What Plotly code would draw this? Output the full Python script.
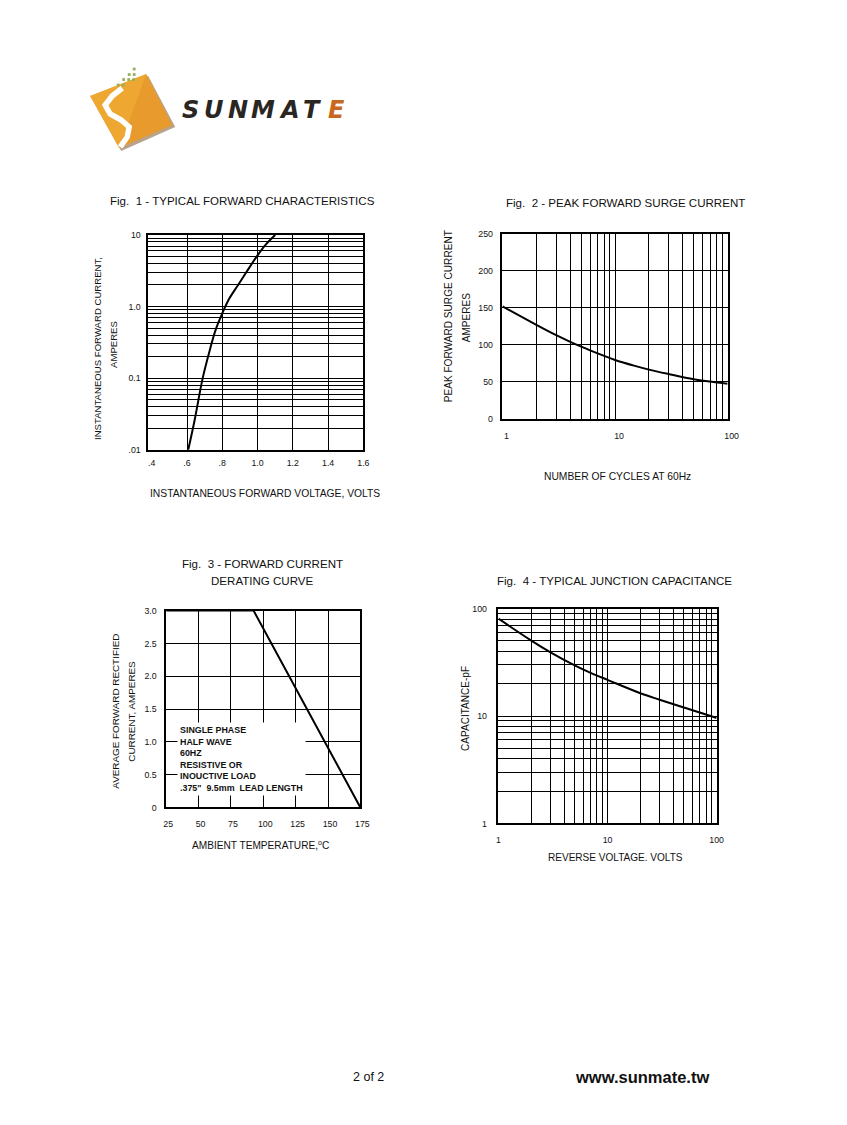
import plotly.graph_objects as go

W, H = 811, 1099
# measured mapping from figure pixels to the photographed page: page = S*fig + B
SX, BX = 0.982, 10.9
SY, BY = 0.9917, 11.9
FONT = "Liberation Sans, Arial, sans-serif"

# ---------------- data ----------------
fig1_voltage = [0.607, 0.642, 0.689, 0.731, 0.761, 0.80, 0.839, 0.888, 0.937, 1.0, 1.05, 1.1]
fig1_current = [0.01, 0.025, 0.1, 0.255, 0.461, 0.80, 1.28, 1.97, 3.03, 5.19, 7.5, 10]
fig1_xticks = [0.4, 0.6, 0.8, 1.0, 1.2, 1.4, 1.6]
fig1_xlabels = [".4", ".6", ".8", "1.0", "1.2", "1.4", "1.6"]
fig1_xgrid = [0.6, 0.8, 1.0, 1.2, 1.4]
fig1_yticks = [0.01, 0.1, 1, 10]
fig1_ylabels = [".01", "0.1", "1.0", "10"]

fig2_cycles = [1, 2, 3, 4, 5, 6, 8, 10, 15, 20, 30, 50, 70, 100]
fig2_surge = [152, 127, 113, 104, 97.5, 92.5, 85, 79.5, 71.5, 66.5, 60.5, 53.5, 50.3, 47.5]
fig2_xticks = [1, 10, 100]
fig2_xlabels = ["1", "10", "100"]
fig2_yticks = [0, 50, 100, 150, 200, 250]
fig2_ylabels = ["0", "50", "100", "150", "200", "250"]

fig3_temp = [25, 92.5, 175]
fig3_current = [3.0, 3.0, 0.0]
fig3_xticks = [25, 50, 75, 100, 125, 150, 175]
fig3_xlabels = ["25", "50", "75", "100", "125", "150", "175"]
fig3_yticks = [0, 0.5, 1.0, 1.5, 2.0, 2.5, 3.0]
fig3_ylabels = ["0", "0.5", "1.0", "1.5", "2.0", "2.5", "3.0"]

fig4_voltage = [1, 2, 3, 5, 7, 10, 20, 30, 50, 70, 100]
fig4_cap = [80.7, 50.4, 39.2, 29.6, 25.2, 21.7, 16.3, 14.2, 12.0, 10.8, 9.6]
fig4_xticks = [1, 10, 100]
fig4_xlabels = ["1", "10", "100"]
fig4_yticks = [1, 10, 100]
fig4_ylabels = ["1", "10", "100"]


def px(x):
    return ((x - BX) / SX) / W


def py(y):
    return 1 - ((y - BY) / SY) / H


def log_minor(lo_exp, hi_exp):
    vals = []
    for e in range(lo_exp, hi_exp):
        for k in range(2, 10):
            vals.append(k * 10 ** e)
    return vals


def axis(domain_px, horizontal, **kw):
    if horizontal:
        dom = [px(domain_px[0]), px(domain_px[1])]
    else:
        dom = [py(domain_px[1]), py(domain_px[0])]
    base = dict(
        domain=dom, showline=True, linecolor="black", linewidth=1.5, mirror=True,
        showgrid=True, gridcolor="black", gridwidth=1, zeroline=False,
        ticks="", tickfont=dict(family=FONT, size=8.8, color="#111"),
        tickmode="array", fixedrange=True,
    )
    base.update(kw)
    return base


fig = go.Figure()
curve = dict(color="black", width=2, shape="spline", smoothing=1.0)
fig.add_trace(go.Scatter(x=fig1_voltage, y=fig1_current, mode="lines", line=curve,
                         xaxis="x", yaxis="y", hoverinfo="skip"))
fig.add_trace(go.Scatter(x=fig2_cycles, y=fig2_surge, mode="lines", line=curve,
                         xaxis="x2", yaxis="y2", hoverinfo="skip"))
fig.add_trace(go.Scatter(x=fig3_temp, y=fig3_current, mode="lines", line=dict(color="black", width=2),
                         xaxis="x3", yaxis="y3", hoverinfo="skip", cliponaxis=False))
fig.add_trace(go.Scatter(x=fig4_voltage, y=fig4_cap, mode="lines", line=curve,
                         xaxis="x4", yaxis="y4", hoverinfo="skip"))

minor_grid = dict(showgrid=True, gridcolor="black", gridwidth=1, ticks="")

fig.update_layout(
    width=W, height=H, autosize=False,
    margin=dict(l=0, r=0, t=0, b=0),
    paper_bgcolor="white", plot_bgcolor="white", showlegend=False,
    xaxis=axis((148, 363), True, anchor="y", range=[0.38, 1.6], tickvals=fig1_xticks, ticktext=fig1_xlabels,
               showgrid=False, minor=dict(tickvals=fig1_xgrid, **minor_grid), ticklabelstandoff=4),
    yaxis=axis((234, 449), False, anchor="x", type="log", range=[-2, 1], tickvals=fig1_yticks, ticktext=fig1_ylabels,
               minor=dict(tickvals=log_minor(-2, 1), **minor_grid), ticklabelstandoff=4),
    xaxis2=axis((502, 727), True, anchor="y2", type="log", range=[0, 2], tickvals=fig2_xticks, ticktext=fig2_xlabels,
                minor=dict(tickvals=log_minor(0, 2), **minor_grid), ticklabelstandoff=8, ticklabelshift=4),
    yaxis2=axis((233, 418), False, anchor="x2", range=[0, 250], tickvals=fig2_yticks, ticktext=fig2_ylabels,
                ticklabelstandoff=6),
    xaxis3=axis((166, 360), True, anchor="y3", range=[25, 175], tickvals=fig3_xticks, ticktext=fig3_xlabels,
                ticklabelstandoff=7, ticklabelshift=2),
    yaxis3=axis((610, 807), False, anchor="x3", range=[0, 3.0], tickvals=fig3_yticks, ticktext=fig3_ylabels,
                ticklabelstandoff=6),
    xaxis4=axis((498, 716), True, anchor="y4", type="log", range=[0, 2], tickvals=fig4_xticks, ticktext=fig4_xlabels,
                minor=dict(tickvals=log_minor(0, 2), **minor_grid), ticklabelstandoff=7),
    yaxis4=axis((608, 823), False, anchor="x4", type="log", range=[0, 2], tickvals=fig4_yticks, ticktext=fig4_ylabels,
                minor=dict(tickvals=log_minor(0, 2), **minor_grid), ticklabelstandoff=8),
)

ann = []


def text(x, y, t, size=10, angle=0, xanchor="center", bold=False, color="#111", **kw):
    ann.append(dict(x=px(x), y=py(y), xref="paper", yref="paper", text=("<b>%s</b>" % t if bold else t),
                    showarrow=False, textangle=angle, xanchor=xanchor, yanchor="middle",
                    font=dict(family=FONT, size=size, color=color), **kw))


NB = "\u00a0"
TS = 11.55
# Titles
text(242, 200, "Fig." + NB + NB + "1 - TYPICAL FORWARD CHARACTERISTICS", size=TS)
text(625, 202, "Fig." + NB + NB + "2 - PEAK FORWARD SURGE CURRENT", size=TS)
text(262, 563, "Fig." + NB + NB + "3 - FORWARD CURRENT", size=TS)
text(262, 580, "DERATING CURVE", size=TS)
text(614, 580, "Fig." + NB + NB + "4 - TYPICAL JUNCTION CAPACITANCE", size=TS)

# Axis titles
text(98, 348, "INSTANTANEOUS FORWARD CURRENT,", angle=-90, size=9.6)
text(114, 344, "AMPERES", angle=-90, size=9.6)
text(265, 493, "INSTANTANEOUS FORWARD VOLTAGE, VOLTS", size=10.3)
text(448, 315, "PEAK FORWARD SURGE CURRENT", angle=-90, size=10.1)
text(466, 316, "AMPERES", angle=-90, size=10.1)
text(617, 476, "NUMBER OF CYCLES AT 60Hz", size=10.3)
text(115, 711, "AVERAGE FORWARD RECTIFIED", angle=-90, size=9.9)
text(131, 711, "CURRENT, AMPERES", angle=-90, size=9.9)
text(260, 845, "AMBIENT TEMPERATURE,<sup>o</sup>C", size=10.15)
text(465, 708, "CAPACITANCE-pF", angle=-90, size=10.05)
text(615, 857, "REVERSE VOLTAGE. VOLTS", size=10.05)

# In-plot labels
ann.append(dict(x=16, y=176, xref="x2", yref="y2", text="T<sub>J</sub>=25℃", showarrow=False,
                font=dict(family=FONT, size=12, color="#111"), bgcolor="white", borderpad=2))
ann.append(dict(x=0.69, y=13.1, xref="x4", yref="y4", text="T<sub>J</sub>=25℃", showarrow=False,
                font=dict(family=FONT, size=12, color="#111"), bgcolor="white", borderpad=2))
ann.append(dict(x=px(177), y=py(759), xref="paper", yref="paper", xanchor="left", yanchor="middle", align="left",
                text="<b>SINGLE PHASE<br>HALF WAVE<br>60HZ<br>RESISTIVE OR<br>INOUCTIVE LOAD<br>.375\"" + NB + NB +
                     "9.5mm" + NB + NB + "LEAD LENGTH</b>",
                showarrow=False, font=dict(family=FONT, size=8.9, color="#111"), bgcolor="white", borderpad=2))

# Footer
text(368, 1077, "2 of 2", size=12.5)
text(641, 1077, "www.sunmate.tw", size=16.5, bold=True)

# Logo wordmark
logo_letters = ["S", "U", "N", "M", "A", "T", "E"]
logo_x = [190, 214, 238, 263, 289, 312, 336]
for ch, lx in zip(logo_letters, logo_x):
    ann.append(dict(x=px(lx), y=py(109), xref="paper", yref="paper", text="<b><i>%s</i></b>" % ch,
                    showarrow=False, xanchor="center", yanchor="middle",
                    font=dict(family="DejaVu Sans, sans-serif", size=24,
                              color="#c8691e" if ch == "E" else "#2a2622")))

fig.update_layout(annotations=ann)


def ppath(points, close=True):
    s = "M " + " L ".join("%.5f,%.5f" % (px(x), py(y)) for x, y in points)
    return s + (" Z" if close else "")


shapes = []
# logo tile shadow + tile
shapes.append(dict(type="path", xref="paper", yref="paper",
                   path=ppath([(92, 97), (148, 75), (175, 126), (121, 150)]),
                   fillcolor="#b9a48a", line=dict(width=0), layer="below"))
shapes.append(dict(type="path", xref="paper", yref="paper",
                   path=ppath([(90, 95), (146, 73), (172, 124), (119, 147)]),
                   fillcolor="#e99a2c", line=dict(width=0)))
shapes.append(dict(type="path", xref="paper", yref="paper",
                   path=ppath([(90, 95), (146, 73), (119, 147)]),
                   fillcolor="#f0ae35", line=dict(width=0), opacity=0.7))
# white S swoosh
s_pts = [(122, 87), (112, 95), (105, 104), (110, 113), (121, 119), (129, 126), (127, 136), (120, 146)]
shapes.append(dict(type="path", xref="paper", yref="paper", path=ppath(s_pts, close=False),
                   line=dict(color="white", width=5.5)))
# green dots
for (dx, dy) in [(134, 68), (129, 73.5), (134, 73.5), (123.5, 78.5), (128.5, 78.5), (133.5, 78.5),
                 (118, 84), (123, 84)]:
    shapes.append(dict(type="rect", xref="paper", yref="paper",
                       x0=px(dx - 1.4), x1=px(dx + 1.4), y0=py(dy + 1.4), y1=py(dy - 1.4),
                       fillcolor="#93b15c", line=dict(width=0)))
# stripes on wordmark
for sy in [105, 111]:
    shapes.append(dict(type="line", xref="paper", yref="paper", x0=px(176), x1=px(352), y0=py(sy), y1=py(sy),
                       line=dict(color="white", width=1)))

fig.update_layout(shapes=shapes)

fig.write_html("out.html")
